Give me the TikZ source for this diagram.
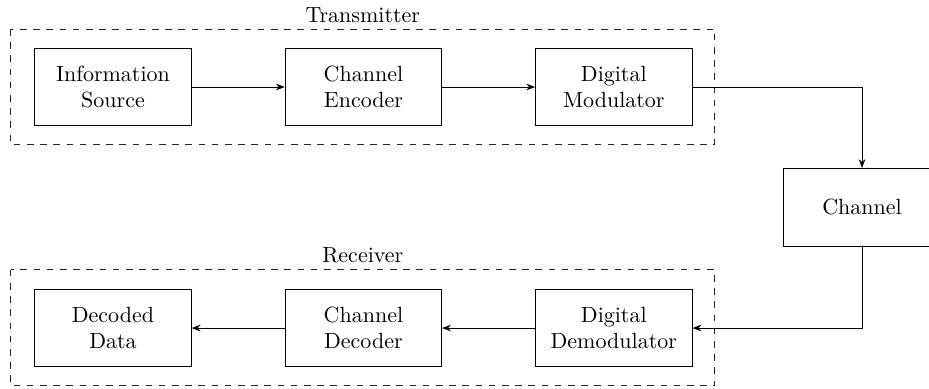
\documentclass[tikz,border=0pt]{standalone}
\usetikzlibrary{arrows.meta,positioning}
\begin{document}
\begin{tikzpicture}[
  blockbox/.style={draw, thin, minimum width=2.5cm, minimum height=1.24cm, align=center, inner sep=2pt},
  groupbox/.style={draw, thin, dashed, gray!30!black},
  flow/.style={-{Stealth[length=4pt,width=3pt]}, thin}
]
\useasboundingbox (0,0) rectangle (14.84,-6.20);
\node[blockbox] (src) at (1.805,-1.39) {Information\\Source};
\node[blockbox] (enc) at (5.805,-1.39) {Channel\\Encoder};
\node[blockbox] (mod) at (9.805,-1.39) {Digital\\Modulator};
\node[blockbox] (chn) at (13.77,-3.31) {Channel};
\node[blockbox] (dem) at (9.805,-5.24) {Digital\\Demodulator};
\node[blockbox] (dec) at (5.805,-5.24) {Channel\\Decoder};
\node[blockbox] (dat) at (1.805,-5.24) {Decoded\\Data};
\coordinate (txa) at (0.17,-0.463);
\coordinate (txb) at (11.42,-2.31);
\coordinate (rxa) at (0.17,-4.31);
\coordinate (rxb) at (11.42,-6.16);
\draw[groupbox] (txa) rectangle (txb);
\draw[groupbox] (rxa) rectangle (rxb);
\node (txl) at (5.795,-0.24) {Transmitter};
\node (rxl) at (5.795,-4.08) {Receiver};
\draw[flow] (src) -- (enc);
\draw[flow] (enc) -- (mod);
\draw[flow] (mod.east) -| (chn.north);
\draw[flow] (chn.south) |- (dem.east);
\draw[flow] (dem) -- (dec);
\draw[flow] (dec) -- (dat);
\end{tikzpicture}
\end{document}
